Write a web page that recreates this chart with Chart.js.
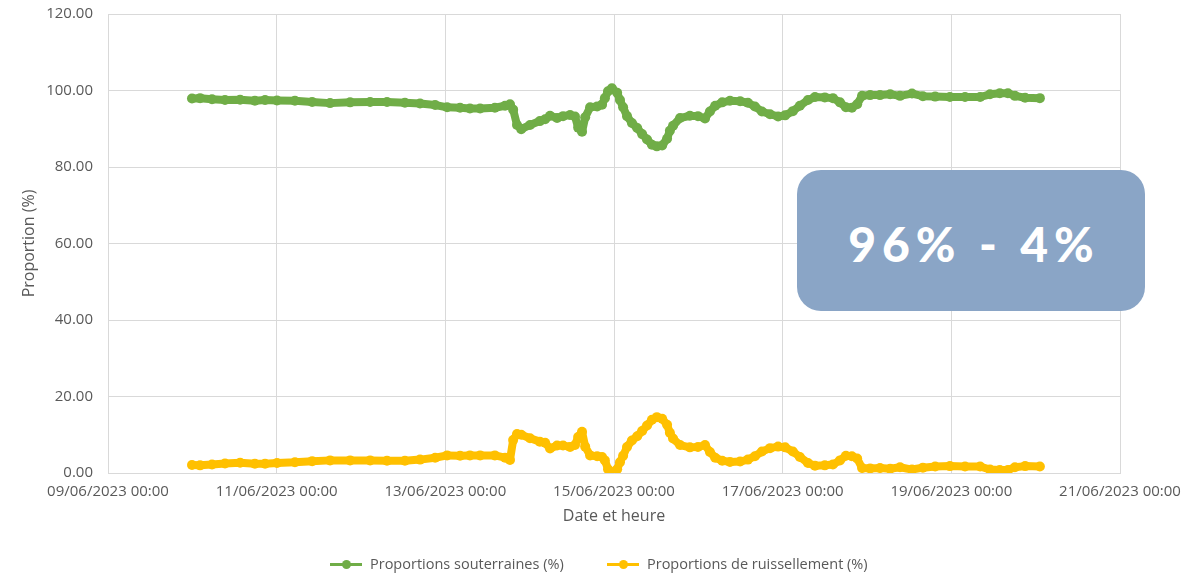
<!DOCTYPE html>
<html>
<head>
<meta charset="utf-8">
<script src="https://cdn.jsdelivr.net/npm/chart.js@4.4.1/dist/chart.umd.min.js"></script>
<style>
  html, body { margin: 0; padding: 0; background: #fff; }
  #wrap { position: relative; width: 1195px; height: 574px; overflow: hidden; }
  #c { position: absolute; left: 0; top: 0; }
  #box {
    position: absolute; left: 797px; top: 170px; width: 348px; height: 141px;
    background: #8aa5c6; border-radius: 24px;
    display: flex; align-items: center; justify-content: center;
    color: #fff; font-family: Lato, "Open Sans", sans-serif; font-weight: 900;
    font-size: 48px; letter-spacing: 6px; padding-top: 6px; padding-left: 6px; box-sizing: border-box;
  }
  #legend {
    position: absolute; left: 0; top: 553px; width: 1195px; height: 22px;
    font-family: "Open Sans", sans-serif; font-size: 14.5px; color: #595959;
  }
  .item { position: absolute; top: 0; height: 22px; line-height: 22px; white-space: nowrap; }
  .mk { position: absolute; top: 10px; width: 32px; height: 3px; }
  .dot { position: absolute; top: -3px; left: 12px; width: 9px; height: 9px; border-radius: 50%; }
  .txt { position: absolute; left: 40px; top: 0; }
</style>
</head>
<body>
<div id="wrap">
  <canvas id="c" width="1195" height="574"></canvas>
  <div id="box">96% - 4%</div>
  <div id="legend">
    <div class="item" style="left:330px">
      <div class="mk" style="background:#70ad47"><div class="dot" style="background:#70ad47"></div></div>
      <span class="txt">Proportions souterraines (%)</span>
    </div>
    <div class="item" style="left:607px">
      <div class="mk" style="background:#ffc000"><div class="dot" style="background:#ffc000"></div></div>
      <span class="txt">Proportions de ruissellement (%)</span>
    </div>
  </div>
</div>
<script>
// Hours elapsed since 09/06/2023 00:00
const hours = [23.9,26.2,29.6,33.3,37.6,41.8,44.7,48.1,53.2,58.1,63.2,68.9,74.6,79.4,84.5,88.8,93.1,96.5,100.2,103.0,
  105.9,110.1,113.0,114.4,115.3,116.4,117.6,120.1,122.9,124.4,125.8,127.8,129.5,131.5,132.9,133.8,134.9,135.8,137.2,139.2,
  140.6,141.4,142.3,143.4,144.9,145.7,146.6,147.7,149.1,150.6,152.0,153.4,154.8,156.2,157.7,159.1,159.9,160.8,162.8,165.6,
  167.9,169.9,171.3,172.8,174.8,177.0,179.9,182.1,184.1,186.1,188.4,190.7,192.7,194.9,196.9,199.2,201.2,204.0,206.3,208.3,
  210.0,211.7,213.2,214.6,216.9,219.7,222.6,225.4,228.8,231.9,235.4,239.6,243.9,248.2,251.0,253.8,256.1,258.1,261.0,265.2];

const souterraines = [97.9,98.0,97.7,97.5,97.6,97.3,97.5,97.4,97.3,97.0,96.7,96.9,97.0,97.0,96.8,96.6,96.2,95.6,95.5,95.3,
  95.3,95.5,96.0,96.4,95.0,91.0,89.9,91.0,92.0,92.5,93.4,92.8,93.3,93.6,93.2,90.3,89.2,93.0,95.6,95.8,
  96.3,98.0,99.8,100.6,99.4,97.5,95.6,93.3,91.5,90.2,88.6,87.2,85.8,85.4,85.6,87.4,89.5,90.8,92.8,93.4,
  93.3,92.7,94.5,96.0,96.9,97.3,97.2,96.8,95.8,94.5,93.8,93.2,93.5,94.6,96.0,97.5,98.3,98.2,98.0,96.9,
  95.6,95.5,96.4,98.6,98.8,98.8,99.0,98.6,99.2,98.5,98.4,98.3,98.3,98.3,99.0,99.3,99.3,98.6,98.1,98.0];

const ruissellement = [2.1,2.0,2.2,2.5,2.7,2.4,2.4,2.6,2.8,3.1,3.3,3.3,3.3,3.2,3.2,3.5,4.0,4.6,4.5,4.6,
  4.6,4.6,4.0,3.4,8.6,10.2,10.0,9.1,8.2,7.9,6.4,7.2,7.2,6.8,7.3,9.4,10.8,6.9,4.6,4.4,
  4.2,3.3,1.0,0.1,1.0,2.8,4.5,6.8,8.5,9.6,11.0,12.4,13.9,14.6,14.2,12.6,10.5,9.0,7.3,6.7,
  6.8,7.3,5.5,4.0,3.2,2.9,3.0,3.5,4.4,5.6,6.5,6.9,6.7,5.6,4.2,2.6,1.9,2.0,2.2,3.3,
  4.5,4.4,3.8,1.3,1.2,1.3,1.1,1.5,0.9,1.4,1.7,1.8,1.7,1.7,0.9,0.8,0.8,1.5,1.8,1.7];

const xTickLabels = ["09/06/2023 00:00","11/06/2023 00:00","13/06/2023 00:00","15/06/2023 00:00",
  "17/06/2023 00:00","19/06/2023 00:00","21/06/2023 00:00"];
const seriesNames = ["Proportions souterraines (%)", "Proportions de ruissellement (%)"];

const toPts = (vals) => vals.map((v, i) => ({ x: hours[i], y: v }));
const grid = '#d9d9d9';
const txt = '#595959';
const font = { family: '"Open Sans", sans-serif', size: 15 };

new Chart(document.getElementById('c'), {
  type: 'line',
  data: {
    datasets: [
      { label: seriesNames[0], data: toPts(souterraines), borderColor: '#70ad47', backgroundColor: '#70ad47',
        borderWidth: 8, pointRadius: 5, pointBorderWidth: 0, borderJoinStyle: 'round', borderCapStyle: 'round', tension: 0 },
      { label: seriesNames[1], data: toPts(ruissellement), borderColor: '#ffc000', backgroundColor: '#ffc000',
        borderWidth: 8, pointRadius: 5, pointBorderWidth: 0, borderJoinStyle: 'round', borderCapStyle: 'round', tension: 0 }
    ]
  },
  options: {
    responsive: false, devicePixelRatio: 1, animation: false,
    layout: { padding: { left: 0, top: 14, right: 75, bottom: 44 } },
    plugins: { legend: { display: false }, tooltip: { enabled: false } },
    scales: {
      x: {
        type: 'linear', min: 0, max: 288,
        afterFit: (s) => { s.height = 57; },
        grid: { color: grid, drawTicks: false },
        border: { color: grid },
        ticks: { stepSize: 48, padding: 10, color: txt, font, maxRotation: 0, autoSkip: false,
          callback: (v) => xTickLabels[Math.round(v / 48)] },
        title: { display: true, text: 'Date et heure', color: txt, font: { family: font.family, size: 16 }, padding: { bottom: 4 } }
      },
      y: {
        min: 0, max: 120,
        afterFit: (s) => { s.width = 108; s.paddingTop = 0; s.paddingBottom = 0; },
        grid: { color: grid, drawTicks: false },
        border: { color: grid },
        ticks: { stepSize: 20, padding: 15, color: txt, font, callback: (v) => Number(v).toFixed(2) },
        title: { display: true, text: 'Proportion (%)', color: txt, font: { family: font.family, size: 16 }, padding: { top: 20 } }
      }
    }
  }
});
</script>
</body>
</html>
